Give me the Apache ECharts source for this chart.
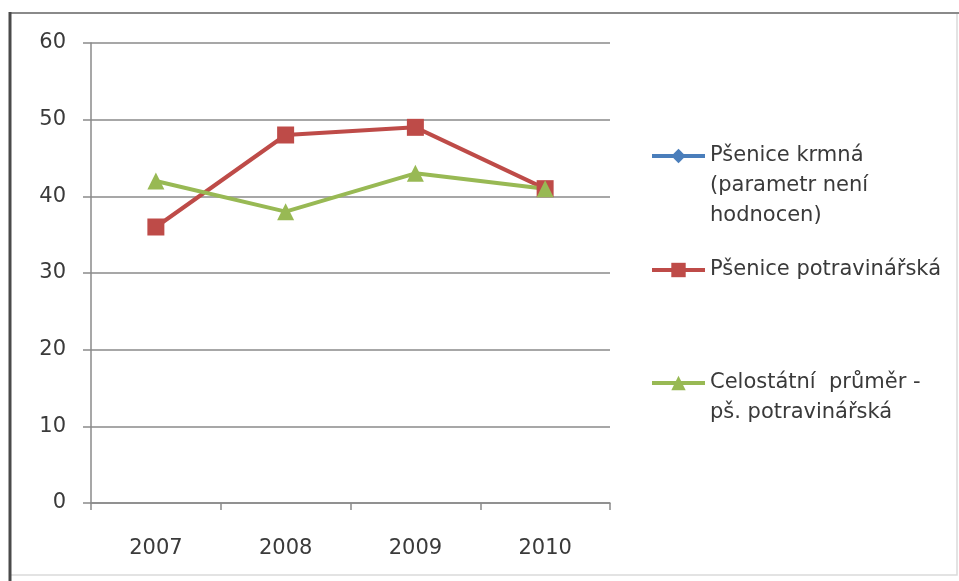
<!DOCTYPE html>
<html>
<head>
<meta charset="utf-8">
<script src="https://cdn.jsdelivr.net/npm/echarts@6/dist/echarts.min.js"></script>
<style>
  html, body { margin: 0; padding: 0; background: #fff; }
  #chart { width: 959px; height: 581px; }
</style>
</head>
<body>
<div id="chart"></div>
<script>
// roky
var years = ['2007', '2008', '2009', '2010'];
// hodnoty řad
var krmna = [null, null, null, null];           // parametr není hodnocen
var potravinarska = [36, 48, 49, 41];
var celostatni = [42, 38, 43, 41];
// názvy v legendě
var nameKrmna = 'Pšenice krmná\n(parametr není\nhodnocen)';
var namePotrav = 'Pšenice potravinářská';
var nameCelo = 'Celostátní  průměr -\npš. potravinářská';

var FONT = '"DejaVu Sans", sans-serif';
var LINE_H = 30;

var chart = echarts.init(document.getElementById('chart'));

// Excel má ikonu u prvního řádku textu -> přidáme prázdné řádky nahoru,
// aby střed bloku textu vyšel na první řádek
function legendFor(name, lines, iconCenter) {
    var pad = '';
    for (var i = 1; i < lines; i++) pad += '\n';
    var total = lines * 2 - 1;
    return {
        orient: 'vertical',
        left: 650,
        top: iconCenter - total * LINE_H / 2,
        padding: 0,
        itemWidth: 53,
        itemHeight: 18,
        selectedMode: false,
        formatter: function (n) { return pad + n; },
        textStyle: {
            fontFamily: FONT,
            fontSize: 21,
            color: '#3a3a3a',
            lineHeight: LINE_H
        },
        data: [{ name: name, lineStyle: { width: 4 } }]
    };
}

var option = {
    animation: false,
    backgroundColor: '#fff',
    graphic: [
        {   // ramecek - pravy a spodni okraj jsou svetle
            type: 'polyline',
            shape: { points: [[957, 13], [957, 575], [10, 575]] },
            style: { fill: 'none', stroke: '#dadada', lineWidth: 1.5 }
        },
        {
            type: 'line',
            shape: { x1: 10, y1: 13, x2: 959, y2: 13 },
            style: { stroke: '#8a8a8a', lineWidth: 2 }
        },
        {
            type: 'line',
            shape: { x1: 10, y1: 12, x2: 10, y2: 581 },
            style: { stroke: '#4a4a4a', lineWidth: 3 }
        }
    ],
    grid: {
        left: 91,
        right: 349,
        top: 43,
        bottom: 78
    },
    legend: [
        legendFor(nameKrmna, 3, 156),
        legendFor(namePotrav, 1, 270),
        legendFor(nameCelo, 2, 383)
    ],
    xAxis: {
        type: 'category',
        data: years,
        boundaryGap: true,
        axisLine: { lineStyle: { color: '#8a8a8a', width: 1.5 } },
        axisTick: { show: true, length: 7, interval: 0, lineStyle: { color: '#8a8a8a', width: 1.5 } },
        axisLabel: { fontFamily: FONT, fontSize: 21, color: '#3a3a3a', margin: 35 },
        splitLine: { show: false }
    },
    yAxis: {
        type: 'value',
        min: 0,
        max: 60,
        interval: 10,
        axisLine: { show: true, lineStyle: { color: '#8a8a8a', width: 1.5 } },
        axisTick: { show: true, length: 8, lineStyle: { color: '#8a8a8a', width: 1.5 } },
        axisLabel: { fontFamily: FONT, fontSize: 21, color: '#3a3a3a', margin: 25 },
        splitLine: { show: true, lineStyle: { color: '#8a8a8a', width: 1.5 } }
    },
    series: [
        {
            name: nameKrmna,
            type: 'line',
            data: krmna,
            color: '#4a7ebb',
            symbol: 'diamond',
            symbolSize: 12,
            lineStyle: { width: 4 }
        },
        {
            name: namePotrav,
            type: 'line',
            data: potravinarska,
            color: '#be4b48',
            symbol: 'rect',
            symbolSize: 17,
            lineStyle: { width: 4 },
            itemStyle: { color: '#be4b48' }
        },
        {
            name: nameCelo,
            type: 'line',
            data: celostatni,
            color: '#98b954',
            symbol: 'triangle',
            symbolSize: 17,
            lineStyle: { width: 4 },
            itemStyle: { color: '#98b954' }
        }
    ]
};

chart.setOption(option);
</script>
</body>
</html>
